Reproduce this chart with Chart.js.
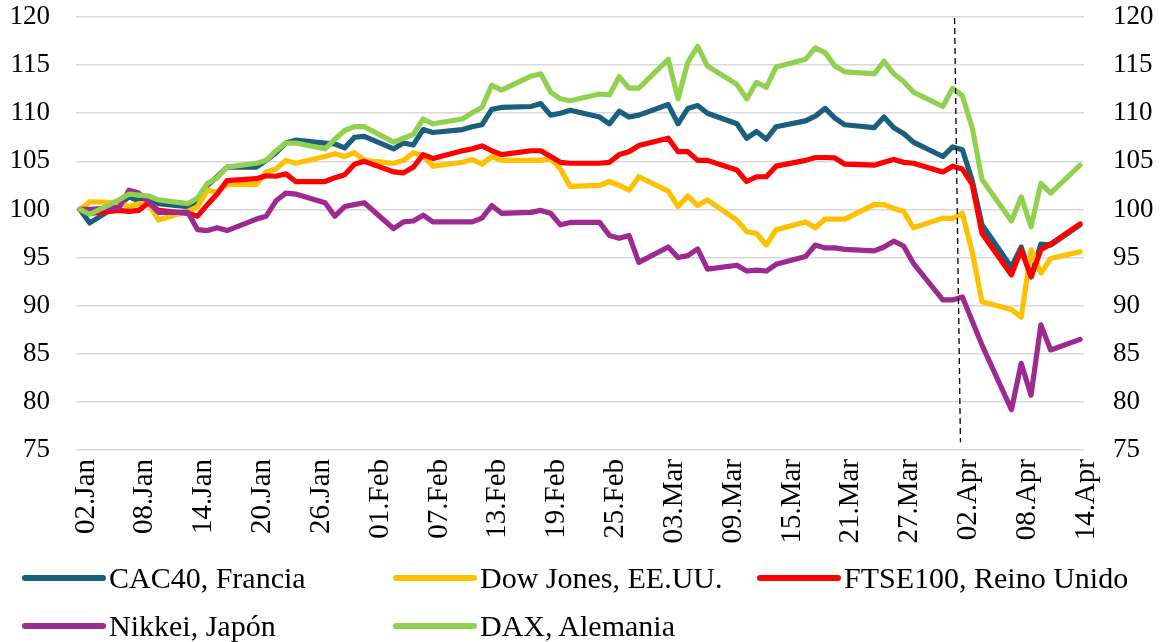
<!DOCTYPE html>
<html lang="es">
<head>
<meta charset="utf-8">
<title>Bolsas internacionales</title>
<script src="https://cdn.jsdelivr.net/npm/chart.js@4.4.1/dist/chart.umd.min.js"></script>
<style>
  html, body { margin: 0; padding: 0; background: #fff; }
  #wrap { position: relative; width: 1161px; height: 642px; }
  #legend {
    position: absolute; left: 0; top: 0; width: 1161px; height: 642px;
    pointer-events: none; font-family: "Liberation Serif", serif; font-size: 30px; color: #000;
  }
  .item { position: absolute; display: flex; align-items: center; white-space: nowrap; height: 36px; }
  .swatch { display: inline-block; width: 84px; height: 6px; border-radius: 3px; margin-right: 3px; }
</style>
</head>
<body>
<div id="wrap">
  <canvas id="indexChart" width="1161" height="642"></canvas>
  <div id="legend"></div>
</div>
<script>
// day offsets from 02.Jan (trading days only)
const tradingDays = [
  0, 1, 4, 5, 6, 7, 8, 11, 12, 13, 14, 15, 18, 19, 20, 21, 22, 25, 26, 27, 28, 29,
  32, 33, 34, 35, 36, 39, 40, 41, 42, 43, 46, 47, 48, 49, 50, 53, 54, 55, 56, 57,
  60, 61, 62, 63, 64, 67, 68, 69, 70, 71, 74, 75, 76, 77, 78, 81, 82, 83, 84, 85, 88,
  89, 90, 91, 92, 95, 96, 97, 98, 99, 102
];

const tickDays = [0, 6, 12, 18, 24, 30, 36, 42, 48, 54, 60, 66, 72, 78, 84, 90, 96, 102];
const tickLabels = ['02.Jan', '08.Jan', '14.Jan', '20.Jan', '26.Jan', '01.Feb', '07.Feb', '13.Feb', '19.Feb',
  '25.Feb', '03.Mar', '09.Mar', '15.Mar', '21.Mar', '27.Mar', '02.Apr', '08.Apr', '14.Apr'];

const cac40 = [
  100, 98.6, 100.5, 101.3, 100.9, 101.3, 100.6, 100.3, 100.6, 102.5, 103.4, 104.4, 104.4, 105.1, 105.9, 106.9, 107.2, 106.9, 106.8, 106.4, 107.5, 107.6,
  106.3, 106.9, 106.7, 108.3, 108.0, 108.3, 108.6, 108.8, 110.4, 110.6, 110.7, 111.0, 109.8, 110.0, 110.3, 109.6, 108.9, 110.2, 109.6, 109.8,
  110.9, 108.9, 110.5, 110.8, 110.0, 108.9, 107.4, 108.1, 107.3, 108.6, 109.2, 109.7, 110.5, 109.5, 108.8, 108.5, 109.6, 108.5, 107.9, 107.0, 105.5,
  106.5, 106.2, 103.0, 98.4, 94.0, 96.1, 93.0, 96.4, 96.3, 98.4
];

const dowJones = [
  100, 100.8, 100.7, 100.3, 100.6, 100.6, 98.9, 99.8, 100.3, 102.0, 101.8, 102.6, 102.6, 103.9, 104.2, 105.1, 104.8, 105.5, 105.8, 105.5, 105.9, 105.1,
  104.8, 105.1, 105.9, 105.6, 104.5, 104.9, 105.2, 104.7, 105.5, 105.1, 105.1, 105.1, 105.3, 104.2, 102.4, 102.5, 102.9, 102.5, 102.0, 103.4,
  101.9, 100.3, 101.4, 100.4, 101.0, 98.9, 97.7, 97.5, 96.3, 97.9, 98.7, 98.1, 99.0, 99.0, 99.0, 100.5, 100.5, 100.1, 99.8, 98.1, 99.1,
  99.05, 99.6, 95.6, 90.4, 89.6, 88.8, 95.8, 93.4, 94.9, 95.6
];

const ftse100 = [
  100, 99.6, 99.9, 99.8, 99.9, 100.7, 99.9, 99.6, 99.3, 100.5, 101.6, 103.0, 103.2, 103.5, 103.45, 103.7, 102.9, 102.9, 103.3, 103.6, 104.7, 105.0,
  103.9, 103.8, 104.4, 105.7, 105.3, 106.1, 106.3, 106.6, 106.1, 105.7, 106.1, 106.1, 105.5, 104.9, 104.8, 104.8, 104.9, 105.7, 106.0, 106.65,
  107.4, 106.0, 106.0, 105.1, 105.1, 104.1, 102.9, 103.4, 103.4, 104.5, 105.1, 105.4, 105.4, 105.35, 104.7, 104.6, 104.9, 105.2, 104.9, 104.8, 103.9,
  104.5, 104.2, 102.6, 97.5, 93.2, 95.8, 93.0, 95.8, 96.4, 98.5
];

const nikkei = [
  100, 100, 100.2, 102.0, 101.7, 100.8, 99.7, 99.7, 97.9, 97.8, 98.1, 97.8, 99.0, 99.3, 100.9, 101.7, 101.6, 100.7, 99.3, 100.3, 100.5, 100.7,
  98.0, 98.7, 98.8, 99.4, 98.7, 98.7, 98.7, 99.1, 100.4, 99.6, 99.7, 99.9, 99.6, 98.4, 98.65, 98.65, 97.3, 97.0, 97.3, 94.5,
  96.1, 95.0, 95.2, 95.9, 93.8, 94.2, 93.6, 93.7, 93.6, 94.3, 95.1, 96.3, 96.0, 96.0, 95.85, 95.7, 96.1, 96.7, 96.2, 94.4, 90.6,
  90.6, 90.9, 88.4, 85.9, 79.2, 84.0, 80.7, 88.0, 85.4, 86.5
];

const dax = [
  100, 99.5, 101.0, 101.6, 101.5, 101.4, 101.0, 100.6, 101.2, 102.7, 103.3, 104.4, 104.8, 105.1, 106.1, 106.9, 106.9, 106.3, 107.3, 108.2, 108.6, 108.6,
  107.0, 107.4, 107.8, 109.4, 108.9, 109.4, 110.05, 110.6, 112.9, 112.4, 113.85, 114.1, 112.2, 111.5, 111.3, 112.0, 111.9, 113.8, 112.6, 112.6,
  115.6, 111.5, 115.3, 116.95, 114.9, 113.0, 111.5, 113.2, 112.7, 114.8, 115.6, 116.8, 116.3, 114.9, 114.3, 114.1, 115.4, 114.1, 113.3, 112.2, 110.7,
  112.6, 111.8, 108.5, 103.1, 98.8, 101.3, 98.2, 102.7, 101.7, 104.6
];

const seriesNames = ['CAC40, Francia', 'Dow Jones, EE.UU.', 'FTSE100, Reino Unido', 'Nikkei, Japón', 'DAX, Alemania'];
const seriesColors = ['#1b5f7e', '#ffc000', '#ff0000', '#9c2a90', '#92d050'];
const seriesValues = [cac40, dowJones, ftse100, nikkei, dax];

// dashed marker line around 02.Apr
const aprilMarker = { topDay: 89.2, bottomDay: 89.8, topValue: 119.9, bottomValue: 75.8 };

const labelFont = { family: 'Liberation Serif', size: 27 };
const dateFont = { family: 'Liberation Serif', size: 29 };

const markerPlugin = {
  id: 'aprilMarker',
  afterDatasetsDraw(chart) {
    const { ctx, scales: { x, y } } = chart;
    ctx.save();
    ctx.strokeStyle = '#000';
    ctx.lineWidth = 1.3;
    ctx.setLineDash([6, 4]);
    ctx.beginPath();
    ctx.moveTo(x.getPixelForValue(aprilMarker.topDay), y.getPixelForValue(aprilMarker.topValue));
    ctx.lineTo(x.getPixelForValue(aprilMarker.bottomDay), y.getPixelForValue(aprilMarker.bottomValue));
    ctx.stroke();
    ctx.restore();
  }
};

const datasets = seriesNames.map((name, i) => ({
  label: name,
  data: tradingDays.map((d, j) => ({ x: d, y: seriesValues[i][j] })),
  borderColor: seriesColors[i],
  backgroundColor: seriesColors[i],
  borderWidth: 5.2,
  borderJoinStyle: 'round',
  borderCapStyle: 'round',
  pointRadius: 0,
  tension: 0,
  order: seriesNames.length - i
}));

// keep the plot box fixed, whatever the labels ask for
function fitY(width) {
  return (scale) => {
    scale.width = width;
    scale.paddingTop = 0;
    scale.paddingBottom = 0;
  };
}

const ctx = document.getElementById('indexChart').getContext('2d');
const chart = new Chart(ctx, {
  type: 'line',
  data: { datasets: datasets },
  options: {
    responsive: false,
    animation: false,
    layout: { padding: { top: 17, bottom: 97, left: 0, right: 0 } },
    plugins: {
      legend: { display: false },
      tooltip: { enabled: false }
    },
    scales: {
      x: {
        type: 'linear',
        min: -0.4,
        max: 102.4,
        afterBuildTicks: (scale) => { scale.ticks = tickDays.map(v => ({ value: v })); },
        afterFit: (scale) => {
          scale.height = 95;
          scale.paddingLeft = 0;
          scale.paddingRight = 0;
        },
        grid: { display: false, drawTicks: false },
        border: { display: false },
        ticks: {
          autoSkip: false,
          maxRotation: 90,
          minRotation: 90,
          padding: 9,
          labelOffset: 6,
          color: '#000',
          font: dateFont,
          callback: (v) => tickLabels[tickDays.indexOf(v)]
        }
      },
      y: {
        position: 'left',
        min: 75,
        max: 120,
        afterFit: fitY(76),
        grid: { color: '#d9d9d9', lineWidth: 1.5, drawTicks: false },
        border: { display: false },
        ticks: { stepSize: 5, padding: 26, color: '#000', font: labelFont }
      },
      y2: {
        position: 'right',
        min: 75,
        max: 120,
        afterFit: fitY(77),
        grid: { display: false, drawTicks: false },
        border: { display: false },
        ticks: { stepSize: 5, padding: 29, color: '#000', font: labelFont }
      }
    }
  },
  plugins: [markerPlugin]
});

// legend laid out in a 3-column grid like the original
const legendDiv = document.getElementById('legend');
const legendCols = [22, 393, 757];
const legendRows = [560, 608];
seriesNames.forEach((name, i) => {
  const item = document.createElement('div');
  item.className = 'item';
  item.style.left = legendCols[i % 3] + 'px';
  item.style.top = legendRows[Math.floor(i / 3)] + 'px';
  item.innerHTML = `<span class="swatch" style="background:${seriesColors[i]}"></span><span>${name}</span>`;
  legendDiv.appendChild(item);
});
</script>
</body>
</html>
